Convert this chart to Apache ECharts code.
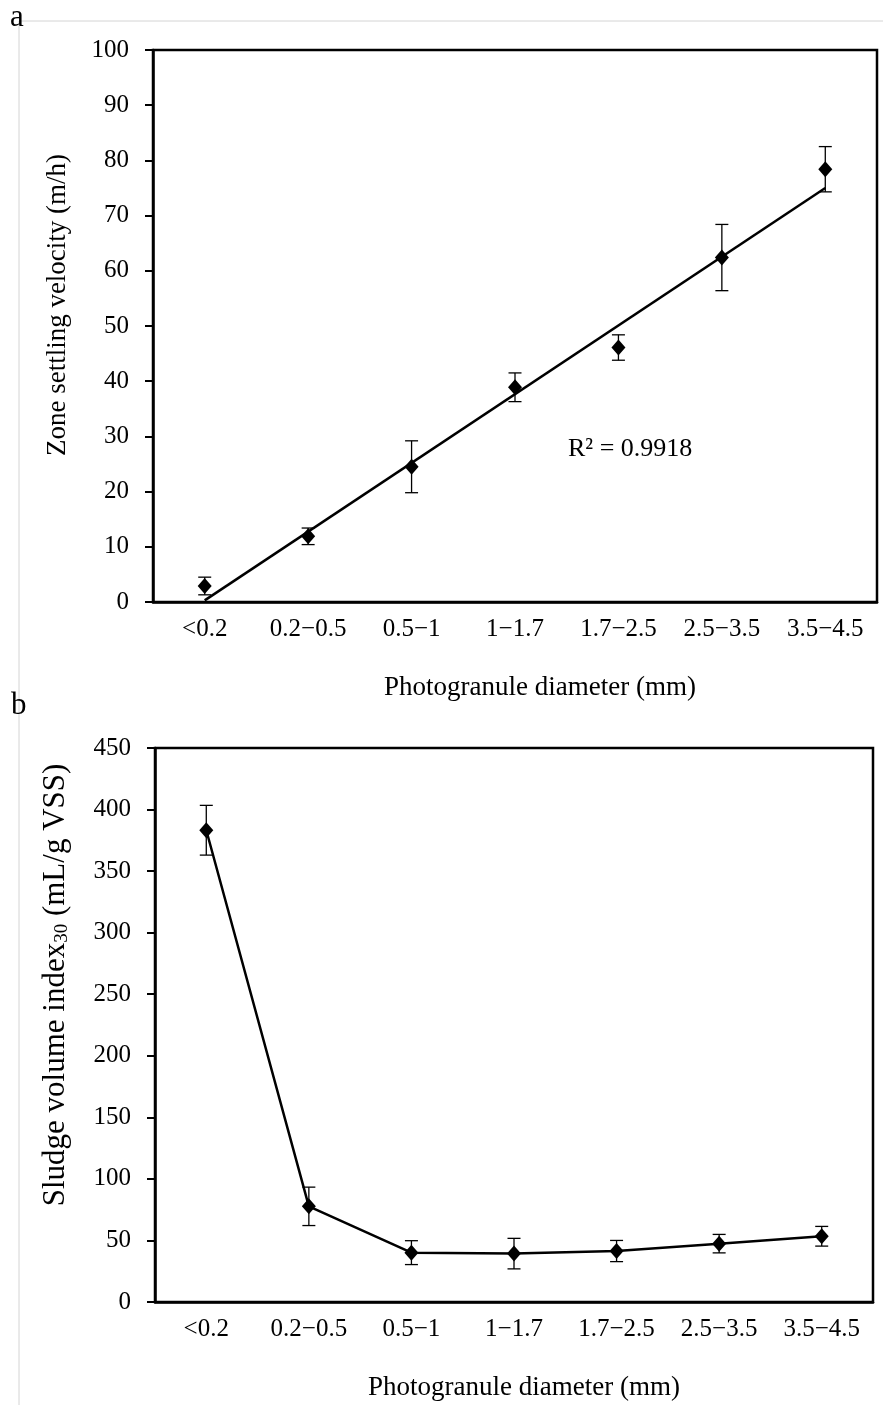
<!DOCTYPE html>
<html>
<head>
<meta charset="utf-8">
<script src="https://cdn.jsdelivr.net/npm/echarts@6/dist/echarts.min.js"></script>
<style>
  html, body { margin: 0; padding: 0; background: #fff; }
  #chart { width: 883px; height: 1405px; }
</style>
</head>
<body>
<div id="chart"></div>
<script>
// photogranule size classes
var categories = ["<0.2", "0.2\u22120.5", "0.5\u22121", "1\u22121.7", "1.7\u22122.5", "2.5\u22123.5", "3.5\u22124.5"];

// a: zone settling velocity (m/h)
var zsvMean = [2.9, 11.9, 24.5, 38.9, 46.1, 62.4, 78.4];
var zsvErr = [1.6, 1.5, 4.7, 2.6, 2.3, 6.0, 4.1];
// linear trend line, value at first and last class
var zsvTrend = [0.3, 75.0];

// b: SVI30 (mL/g VSS)
var sviMean = [383.2, 77.7, 40.1, 39.3, 41.4, 47.4, 53.4];
var sviErr = [20.2, 15.6, 9.7, 12.4, 8.6, 7.5, 8.0];

var FONT = "'Liberation Serif', 'Times New Roman', serif";

function errData(mean, err) {
  return mean.map(function (m, i) {
    return [i, m - err[i], m + err[i]];
  });
}

function errBars() {
  return function (params, api) {
    var top = api.coord([api.value(0), api.value(2)]);
    var bot = api.coord([api.value(0), api.value(1)]);
    var w = 6.5;
    var st = { stroke: "#000", lineWidth: 1.3 };
    return {
      type: "group",
      children: [
        { type: "line", shape: { x1: top[0], y1: top[1], x2: bot[0], y2: bot[1] }, style: st },
        { type: "line", shape: { x1: top[0] - w, y1: top[1], x2: top[0] + w, y2: top[1] }, style: st },
        { type: "line", shape: { x1: bot[0] - w, y1: bot[1], x2: bot[0] + w, y2: bot[1] }, style: st }
      ]
    };
  };
}

function catAxis(gridIndex, nameShift) {
  return {
    type: "category",
    gridIndex: gridIndex,
    data: categories,
    boundaryGap: true,
    name: "Photogranule diameter (mm)",
    nameLocation: "middle",
    nameGap: 72,
    nameTextStyle: { fontFamily: FONT, fontSize: 27, color: "#000", padding: [0, 0, 0, nameShift] },
    axisLine: { lineStyle: { color: "#000", width: 2.5 } },
    axisTick: { alignWithLabel: true, length: 8, lineStyle: { color: "#000", width: 2 } },
    axisLabel: { fontFamily: FONT, fontSize: 25, color: "#000", margin: 15, interval: 0 },
    splitLine: { show: false }
  };
}

function valAxis(gridIndex, max, interval, name, fontSize, nameGap, nameShift) {
  return {
    type: "value",
    gridIndex: gridIndex,
    min: 0,
    max: max,
    interval: interval,
    name: name,
    nameLocation: "middle",
    nameGap: nameGap,
    nameRotate: 90,
    nameTextStyle: {
      fontFamily: FONT, fontSize: fontSize, color: "#000", padding: [0, 0, 0, nameShift],
      rich: {
        m: { fontFamily: FONT, fontSize: fontSize, color: "#000", lineHeight: fontSize + 3 },
        s: { fontFamily: FONT, fontSize: Math.round(fontSize * 0.62), color: "#000", lineHeight: fontSize + 3, padding: [12, 0, 0, 0] }
      }
    },
    axisLine: { show: true, lineStyle: { color: "#000", width: 2.5 } },
    axisTick: { show: true, length: 8, lineStyle: { color: "#000", width: 2 } },
    axisLabel: { fontFamily: FONT, fontSize: 25, color: "#000", margin: 24 },
    splitLine: { show: false }
  };
}

var ec = echarts.init(document.getElementById("chart"));
ec.setOption({
  backgroundColor: "#fff",
  animation: false,
  grid: [
    { left: 153, right: 6, top: 50, bottom: 803, show: true, borderColor: "#000", borderWidth: 2.5 },
    { left: 155, right: 10, top: 748, bottom: 103, show: true, borderColor: "#000", borderWidth: 2.5 }
  ],
  xAxis: [catAxis(0, 50), catAxis(1, 20)],
  yAxis: [
    valAxis(0, 100, 10, "{m|Zone settling velocity (m/h)}", 27, 80, 42),
    valAxis(1, 450, 50, "{m|Sludge volume index}{s|30}{m| (mL/g VSS)}", 31, 82, 80)
  ],
  graphic: [
    { type: "line", shape: { x1: 19, y1: 21, x2: 19, y2: 1405 }, style: { stroke: "#d4d4d4", lineWidth: 1 } },
    { type: "line", shape: { x1: 19, y1: 21, x2: 883, y2: 21 }, style: { stroke: "#d4d4d4", lineWidth: 1 } },
    { type: "text", left: 10, top: 2, style: { text: "a", font: "31px " + FONT, fill: "#000" } },
    { type: "text", left: 11, top: 690, style: { text: "b", font: "31px " + FONT, fill: "#000" } },
    { type: "text", left: 568, top: 436, style: { text: "R\u00b2 = 0.9918", font: "26px " + FONT, fill: "#000" } }
  ],
  series: [
    {
      name: "trend",
      type: "line",
      xAxisIndex: 0, yAxisIndex: 0,
      data: [[categories[0], zsvTrend[0]], [categories[categories.length - 1], zsvTrend[1]]],
      symbol: "none",
      lineStyle: { color: "#000", width: 2.5 },
      z: 2
    },
    {
      name: "zsvErr",
      type: "custom",
      xAxisIndex: 0, yAxisIndex: 0,
      data: errData(zsvMean, zsvErr),
      renderItem: errBars(),
      z: 3
    },
    {
      name: "zsv",
      type: "scatter",
      xAxisIndex: 0, yAxisIndex: 0,
      data: zsvMean,
      symbol: "diamond",
      symbolSize: [14, 16],
      itemStyle: { color: "#000", opacity: 1 },
      z: 4
    },
    {
      name: "sviErr",
      type: "custom",
      xAxisIndex: 1, yAxisIndex: 1,
      data: errData(sviMean, sviErr),
      renderItem: errBars(),
      z: 3
    },
    {
      name: "svi",
      type: "line",
      xAxisIndex: 1, yAxisIndex: 1,
      data: sviMean,
      symbol: "diamond",
      symbolSize: [14, 16],
      showAllSymbol: true,
      itemStyle: { color: "#000", opacity: 1 },
      lineStyle: { color: "#000", width: 2.5 },
      z: 4
    }
  ]
});
</script>
</body>
</html>
